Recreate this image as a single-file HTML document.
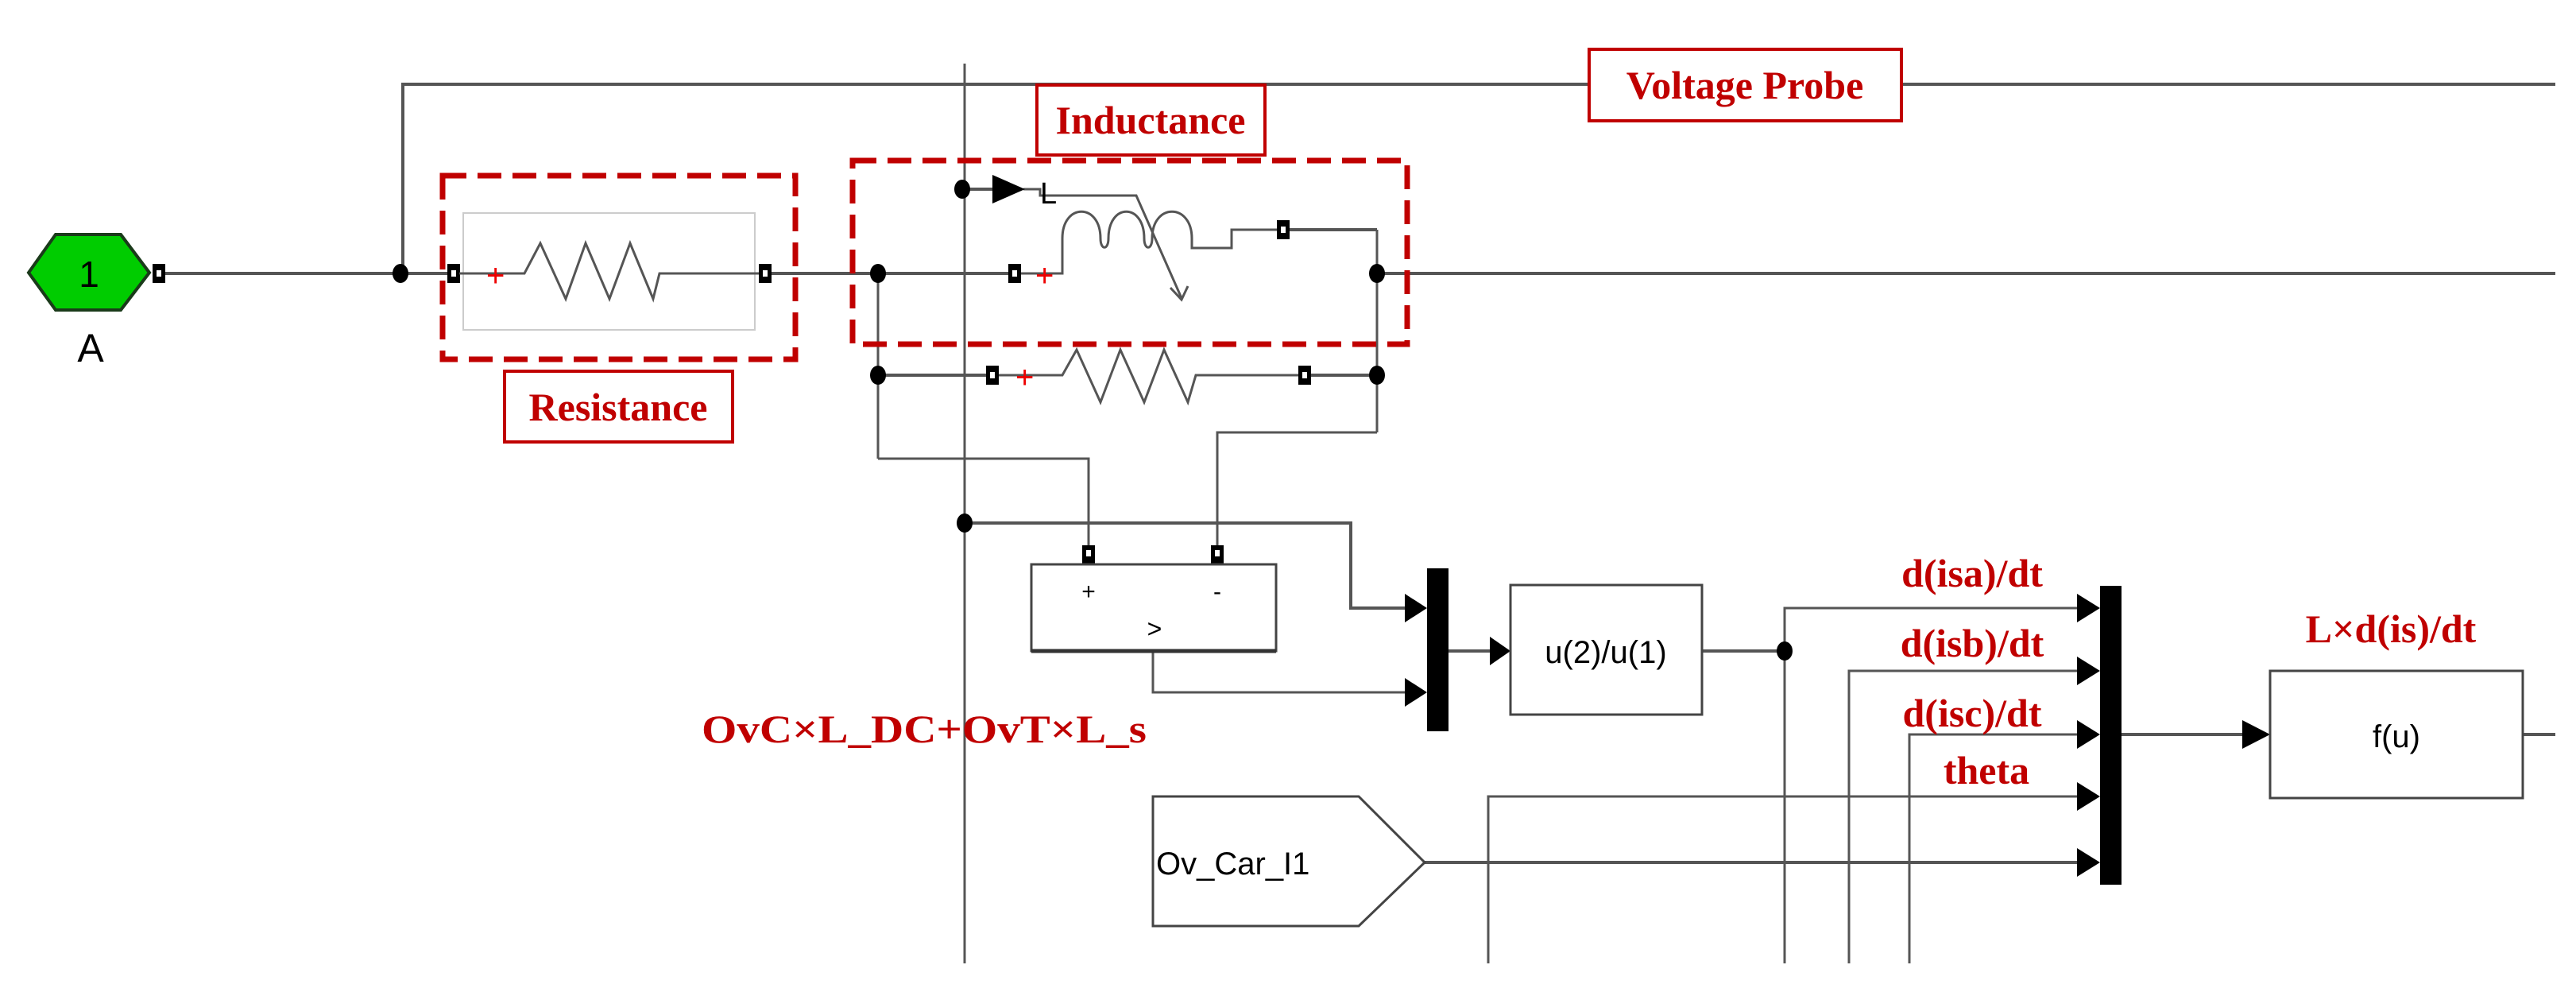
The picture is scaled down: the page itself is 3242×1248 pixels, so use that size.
<!DOCTYPE html>
<html><head><meta charset="utf-8"><style>html,body{margin:0;padding:0;background:#fff}svg{display:block}</style></head>
<body>
<svg width="3242" height="1248" viewBox="0 0 3242 1248" xmlns="http://www.w3.org/2000/svg" font-family="Liberation Sans, sans-serif">
<g stroke="#555" stroke-width="4" fill="none">
<polyline points="507,343 507,106 3216,106"/>
<line x1="200" y1="344" x2="570" y2="344"/>
<line x1="962" y1="344" x2="1277" y2="344"/>
<line x1="1733" y1="344" x2="3216" y2="344"/>
<line x1="1214" y1="80" x2="1214" y2="1212" stroke-width="3"/>
<line x1="1105" y1="344" x2="1105" y2="577" stroke-width="3"/>
<polyline points="1105,577 1370,577 1370,695" stroke-width="3"/>
<line x1="1733" y1="289" x2="1733" y2="544" stroke-width="3"/>
<polyline points="1733,544 1532,544 1532,695" stroke-width="3"/>
<line x1="1105" y1="472" x2="1249" y2="472"/>
<line x1="1642" y1="472" x2="1733" y2="472"/>
<line x1="1615" y1="289" x2="1733" y2="289"/>
<polyline points="1288,238 1309,238 1309,246 1430,246 1487,375" stroke-width="3"/>
<line x1="1211" y1="238" x2="1250" y2="238"/>
<polyline points="1214,658 1700,658 1700,765 1793,765"/>
<polyline points="1451,819 1451,871 1793,871" stroke-width="3"/>
<line x1="1823" y1="819" x2="1880" y2="819"/>
<line x1="2142" y1="819" x2="2246" y2="819"/>
<polyline points="2246,1212 2246,765 2620,765" stroke-width="3"/>
<polyline points="2327,1212 2327,844 2620,844" stroke-width="3"/>
<polyline points="2403,1212 2403,924 2620,924" stroke-width="3"/>
<polyline points="1873,1212 1873,1002 2620,1002" stroke-width="3"/>
<line x1="1793" y1="1085" x2="2620" y2="1085"/>
<line x1="2670" y1="924" x2="2825" y2="924"/>
<line x1="3175" y1="924" x2="3216" y2="924"/>
</g>
<g fill="#000">
<ellipse cx="504" cy="344" rx="10" ry="12"/>
<ellipse cx="1105" cy="344" rx="10" ry="12"/>
<ellipse cx="1733" cy="344" rx="10" ry="12"/>
<ellipse cx="1105" cy="472" rx="10" ry="12"/>
<ellipse cx="1733" cy="472" rx="10" ry="12"/>
<ellipse cx="1211" cy="238" rx="10" ry="12"/>
<ellipse cx="1214" cy="658" rx="10" ry="12"/>
<ellipse cx="2246" cy="819" rx="10" ry="12"/>
<polygon points="1249,220 1290,238 1249,256"/>
<polygon points="1768,747 1796,765 1768,783"/>
<polygon points="1768,853 1796,871 1768,889"/>
<polygon points="1875,801 1901,819 1875,837"/>
<polygon points="2614,747 2643,765 2614,783"/>
<polygon points="2614,826 2643,844 2614,862"/>
<polygon points="2614,906 2643,924 2614,942"/>
<polygon points="2614,984 2643,1002 2614,1020"/>
<polygon points="2614,1067 2643,1085 2614,1103"/>
<polygon points="2822,906 2857,924 2822,942"/>
<rect x="1796" y="715" width="27" height="205"/>
<rect x="2643" y="737" width="27" height="376"/>
</g>
<g fill="#000">
<rect x="192" y="332" width="16" height="24"/><rect x="197" y="340" width="6" height="8" fill="#fff"/>
<rect x="563" y="332" width="16" height="24"/><rect x="568" y="340" width="6" height="8" fill="#fff"/>
<rect x="955" y="332" width="16" height="24"/><rect x="960" y="340" width="6" height="8" fill="#fff"/>
<rect x="1269" y="332" width="16" height="24"/><rect x="1274" y="340" width="6" height="8" fill="#fff"/>
<rect x="1607" y="277" width="16" height="24"/><rect x="1612" y="285" width="6" height="8" fill="#fff"/>
<rect x="1241" y="460" width="16" height="24"/><rect x="1246" y="468" width="6" height="8" fill="#fff"/>
<rect x="1634" y="460" width="16" height="24"/><rect x="1639" y="468" width="6" height="8" fill="#fff"/>
<rect x="1362" y="686" width="16" height="24"/><rect x="1367" y="692" width="6" height="8" fill="#fff"/>
<rect x="1524" y="686" width="16" height="24"/><rect x="1529" y="692" width="6" height="8" fill="#fff"/>
</g>
<polygon points="36,343 70,295 152,295 188,343 152,390 70,390" fill="#00cc00" stroke="#1a3a1a" stroke-width="4"/>
<text x="112" y="361" font-size="46" text-anchor="middle" fill="#000">1</text>
<text x="114" y="455" font-size="50" text-anchor="middle" fill="#000">A</text>
<rect x="583" y="268" width="367" height="147" fill="none" stroke="#ccc" stroke-width="2"/>
<polyline points="578,344 660,344 680,306 712,376 737,306 767,376 793,306 822,376 830,344 955,344" fill="none" stroke="#555" stroke-width="3"/>
<text x="612" y="360" font-size="40" fill="#e00">+</text>
<path d="M1285,344 L1337,344 L1337,300 C1337,255 1385,255 1385,300 C1385,315 1395,315 1395,300 C1395,255 1440,255 1440,300 C1440,315 1450,315 1450,300 C1450,255 1500,255 1500,300 L1500,312 L1550,312 L1550,289 L1607,289" fill="none" stroke="#555" stroke-width="3"/>
<polyline points="1473,362 1487,377 1495,360" fill="none" stroke="#555" stroke-width="3"/>
<text x="1309" y="256" font-size="38" fill="#000">L</text>
<text x="1303" y="360" font-size="40" fill="#e00">+</text>
<polyline points="1257,472 1337,472 1355,440 1385,506 1410,440 1440,506 1465,440 1495,506 1505,472 1634,472" fill="none" stroke="#555" stroke-width="3"/>
<text x="1278" y="488" font-size="40" fill="#e00">+</text>
<rect x="1298" y="710" width="308" height="109" fill="#fff" stroke="#444" stroke-width="3"/>
<line x1="1298" y1="819" x2="1606" y2="819" stroke="#333" stroke-width="5"/>
<text x="1370" y="754" font-size="30" text-anchor="middle">+</text>
<text x="1532" y="754" font-size="30" text-anchor="middle">-</text>
<text x="1453" y="802" font-size="32" text-anchor="middle">&gt;</text>
<rect x="1901" y="736" width="241" height="163" fill="#fff" stroke="#444" stroke-width="3"/>
<text x="2021" y="834" font-size="40" text-anchor="middle">u(2)/u(1)</text>
<rect x="2857" y="844" width="318" height="160" fill="#fff" stroke="#444" stroke-width="3"/>
<text x="3016" y="940" font-size="40" text-anchor="middle">f(u)</text>
<polygon points="1451,1002 1710,1002 1793,1085 1710,1165 1451,1165" fill="#fff" stroke="#444" stroke-width="3"/>
<text x="1455" y="1100" font-size="40">Ov_Car_I1</text>
<g fill="none" stroke="#c00000" stroke-width="7" stroke-dasharray="30,14">
<rect x="557" y="221" width="444" height="231"/>
<rect x="1073" y="202" width="698" height="231"/>
</g>
<g fill="#fff" stroke="#c00000" stroke-width="4">
<rect x="635" y="467" width="287" height="89"/>
<rect x="1305" y="107" width="287" height="88"/>
<rect x="2000" y="62" width="393" height="90"/>
</g>
<g font-family="Liberation Serif, serif" font-weight="bold" fill="#c00000" font-size="50" text-anchor="middle">
<text x="778" y="529">Resistance</text>
<text x="1448" y="168">Inductance</text>
<text x="2196" y="124">Voltage Probe</text>
<text x="1163" y="934" textLength="560" lengthAdjust="spacingAndGlyphs">OvC×L_DC+OvT×L_s</text>
<text x="2482" y="738">d(isa)/dt</text>
<text x="2482" y="826">d(isb)/dt</text>
<text x="2482" y="914">d(isc)/dt</text>
<text x="2500" y="986">theta</text>
<text x="3009" y="808">L×d(is)/dt</text>
</g>
</svg>
</body></html>
